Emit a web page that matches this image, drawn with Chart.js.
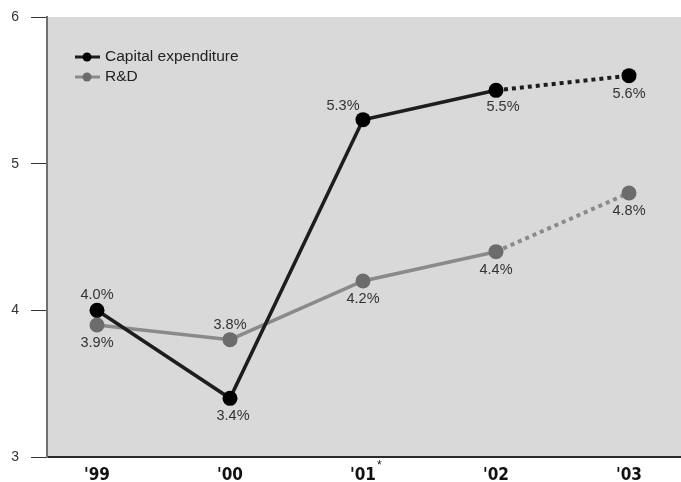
<!DOCTYPE html>
<html>
<head>
<meta charset="utf-8">
<script src="https://cdn.jsdelivr.net/npm/chart.js@4/dist/chart.umd.min.js"></script>
<style>
  html, body { margin: 0; padding: 0; background: #fff; }
  canvas { display: block; }
</style>
</head>
<body>
<canvas id="lineChart" width="681" height="482"></canvas>
<script>
// Data
const xLabels = ["'99", "'00", "'01*", "'02", "'03"];
const capexValues = [4.0, 3.4, 5.3, 5.5, 5.6];
const rndValues = [3.9, 3.8, 4.2, 4.4, 4.8];
const yTicks = [3, 4, 5, 6];

// where each value label sits relative to its point
const capexLabelPos = ["above", "below", "aboveLeft", "belowRight", "below"];
const rndLabelPos = ["below", "above", "below", "below", "below"];

const CAPEX_COLOR = "#1f1c1d";
const RND_COLOR = "#8a8a8a";
const RND_POINT = "#6c6c6c";

const toPoints = (vals) => vals.map((v, i) => ({ x: i, y: v }));

// gray plot background
const plotBackground = {
    id: "plotBackground",
    beforeDraw(chart) {
        const { ctx, chartArea: a } = chart;
        ctx.save();
        ctx.fillStyle = "#d9d9d9";
        ctx.fillRect(a.left, a.top, a.right - a.left, a.bottom - a.top);
        ctx.restore();
    },
};

// percent labels, legend and the footnote asterisk
const extras = {
    id: "extras",
    afterDatasetsDraw(chart) {
        const ctx = chart.ctx;
        ctx.save();
        ctx.font = "14.5px 'Liberation Sans', Arial, sans-serif";
        ctx.fillStyle = "#333";
        ctx.textAlign = "center";
        ctx.textBaseline = "middle";
        const placements = [capexLabelPos, rndLabelPos];
        chart.data.datasets.forEach((ds, di) => {
            chart.getDatasetMeta(di).data.forEach((pt, i) => {
                let dx = 0, dy = 18;
                const p = placements[di][i];
                if (p === "above") dy = -15;
                if (p === "aboveLeft") { dx = -20; dy = -14; }
                if (p === "belowRight") { dx = 7; dy = 17; }
                if (p === "below" && di === 0 && i === 1) dx = 3;
                ctx.fillText(ds.data[i].y.toFixed(1) + "%", pt.x + dx, pt.y + dy);
            });
        });

        // legend
        const items = [
            { text: "Capital expenditure", color: CAPEX_COLOR, dot: "#000", y: 57 },
            { text: "R&D", color: RND_COLOR, dot: RND_POINT, y: 77 },
        ];
        items.forEach((it) => {
            ctx.strokeStyle = it.color;
            ctx.lineWidth = 3;
            ctx.beginPath();
            ctx.moveTo(75, it.y);
            ctx.lineTo(100, it.y);
            ctx.stroke();
            ctx.fillStyle = it.dot;
            ctx.beginPath();
            ctx.arc(87, it.y, 4.5, 0, Math.PI * 2);
            ctx.fill();
            ctx.fillStyle = "#222";
            ctx.textAlign = "left";
            ctx.font = "15.5px 'Liberation Sans', Arial, sans-serif";
            ctx.fillText(it.text, 105, it.y);
        });

        // superscript asterisk after a tick label
        const xs = chart.scales.x;
        ctx.font = "bold 17px 'DejaVu Sans Condensed', sans-serif";
        xLabels.forEach((lab, i) => {
            if (lab.endsWith("*")) {
                const w = ctx.measureText(lab.slice(0, -1)).width;
                const px = xs.getPixelForValue(i);
                ctx.font = "12px 'Liberation Sans', Arial, sans-serif";
                ctx.fillStyle = "#111";
                ctx.textAlign = "left";
                ctx.fillText("*", px + w / 2 + 1, xs.top + 9);
            }
        });
        ctx.restore();
    },
};

const ctx = document.getElementById("lineChart").getContext("2d");
new Chart(ctx, {
    type: "line",
    data: {
        datasets: [
            {
                label: "Capital expenditure",
                data: toPoints(capexValues),
                borderColor: CAPEX_COLOR,
                backgroundColor: "#000",
                pointBackgroundColor: "#000",
                pointBorderWidth: 0,
                pointRadius: 7.5,
                borderWidth: 3.5,
                borderCapStyle: "butt",
                segment: {
                    borderDash: (c) => (c.p0DataIndex === 3 ? [4, 4] : undefined),
                    borderWidth: (c) => (c.p0DataIndex === 3 ? 4 : undefined),
                },
            },
            {
                label: "R&D",
                data: toPoints(rndValues),
                borderColor: RND_COLOR,
                backgroundColor: RND_POINT,
                pointBackgroundColor: RND_POINT,
                pointBorderWidth: 0,
                pointRadius: 7.5,
                borderWidth: 3.5,
                borderCapStyle: "butt",
                segment: {
                    borderDash: (c) => (c.p0DataIndex === 3 ? [4, 4] : undefined),
                    borderWidth: (c) => (c.p0DataIndex === 3 ? 4 : undefined),
                },
            },
        ],
    },
    options: {
        responsive: false,
        animation: false,
        layout: { autoPadding: false, padding: { top: 17, left: 0, right: 0, bottom: 0 } },
        plugins: {
            legend: { display: false },
            tooltip: { enabled: false },
        },
        scales: {
            x: {
                type: "linear",
                min: -0.376,
                max: 4.391,
                afterBuildTicks: (s) => { s.ticks = xLabels.map((_, i) => ({ value: i })); },
                afterFit: (s) => { s.height = 25; s.paddingLeft = 0; s.paddingRight = 0; },
                grid: { display: false },
                border: { display: true, color: "#2a2a2a", width: 2 },
                ticks: {
                    padding: 0,
                    color: "#111",
                    font: { family: "'DejaVu Sans Condensed', sans-serif", size: 17, weight: "bold" },
                    callback: (v) => (xLabels[v] || "").replace("*", ""),
                    maxRotation: 0,
                },
            },
            y: {
                min: 3,
                max: 6,
                afterBuildTicks: (s) => { s.ticks = yTicks.map((v) => ({ value: v })); },
                afterFit: (s) => { s.width = 47; s.paddingTop = 0; s.paddingBottom = 0; },
                grid: {
                    drawOnChartArea: false,
                    drawTicks: true,
                    tickLength: 16,
                    color: "#333",
                    lineWidth: 1,
                },
                border: { display: true, color: "#707070", width: 2 },
                ticks: {
                    padding: 12,
                    color: "#333",
                    font: { family: "'Liberation Sans', Arial, sans-serif", size: 14 },
                },
            },
        },
    },
    plugins: [plotBackground, extras],
});
</script>
</body>
</html>
